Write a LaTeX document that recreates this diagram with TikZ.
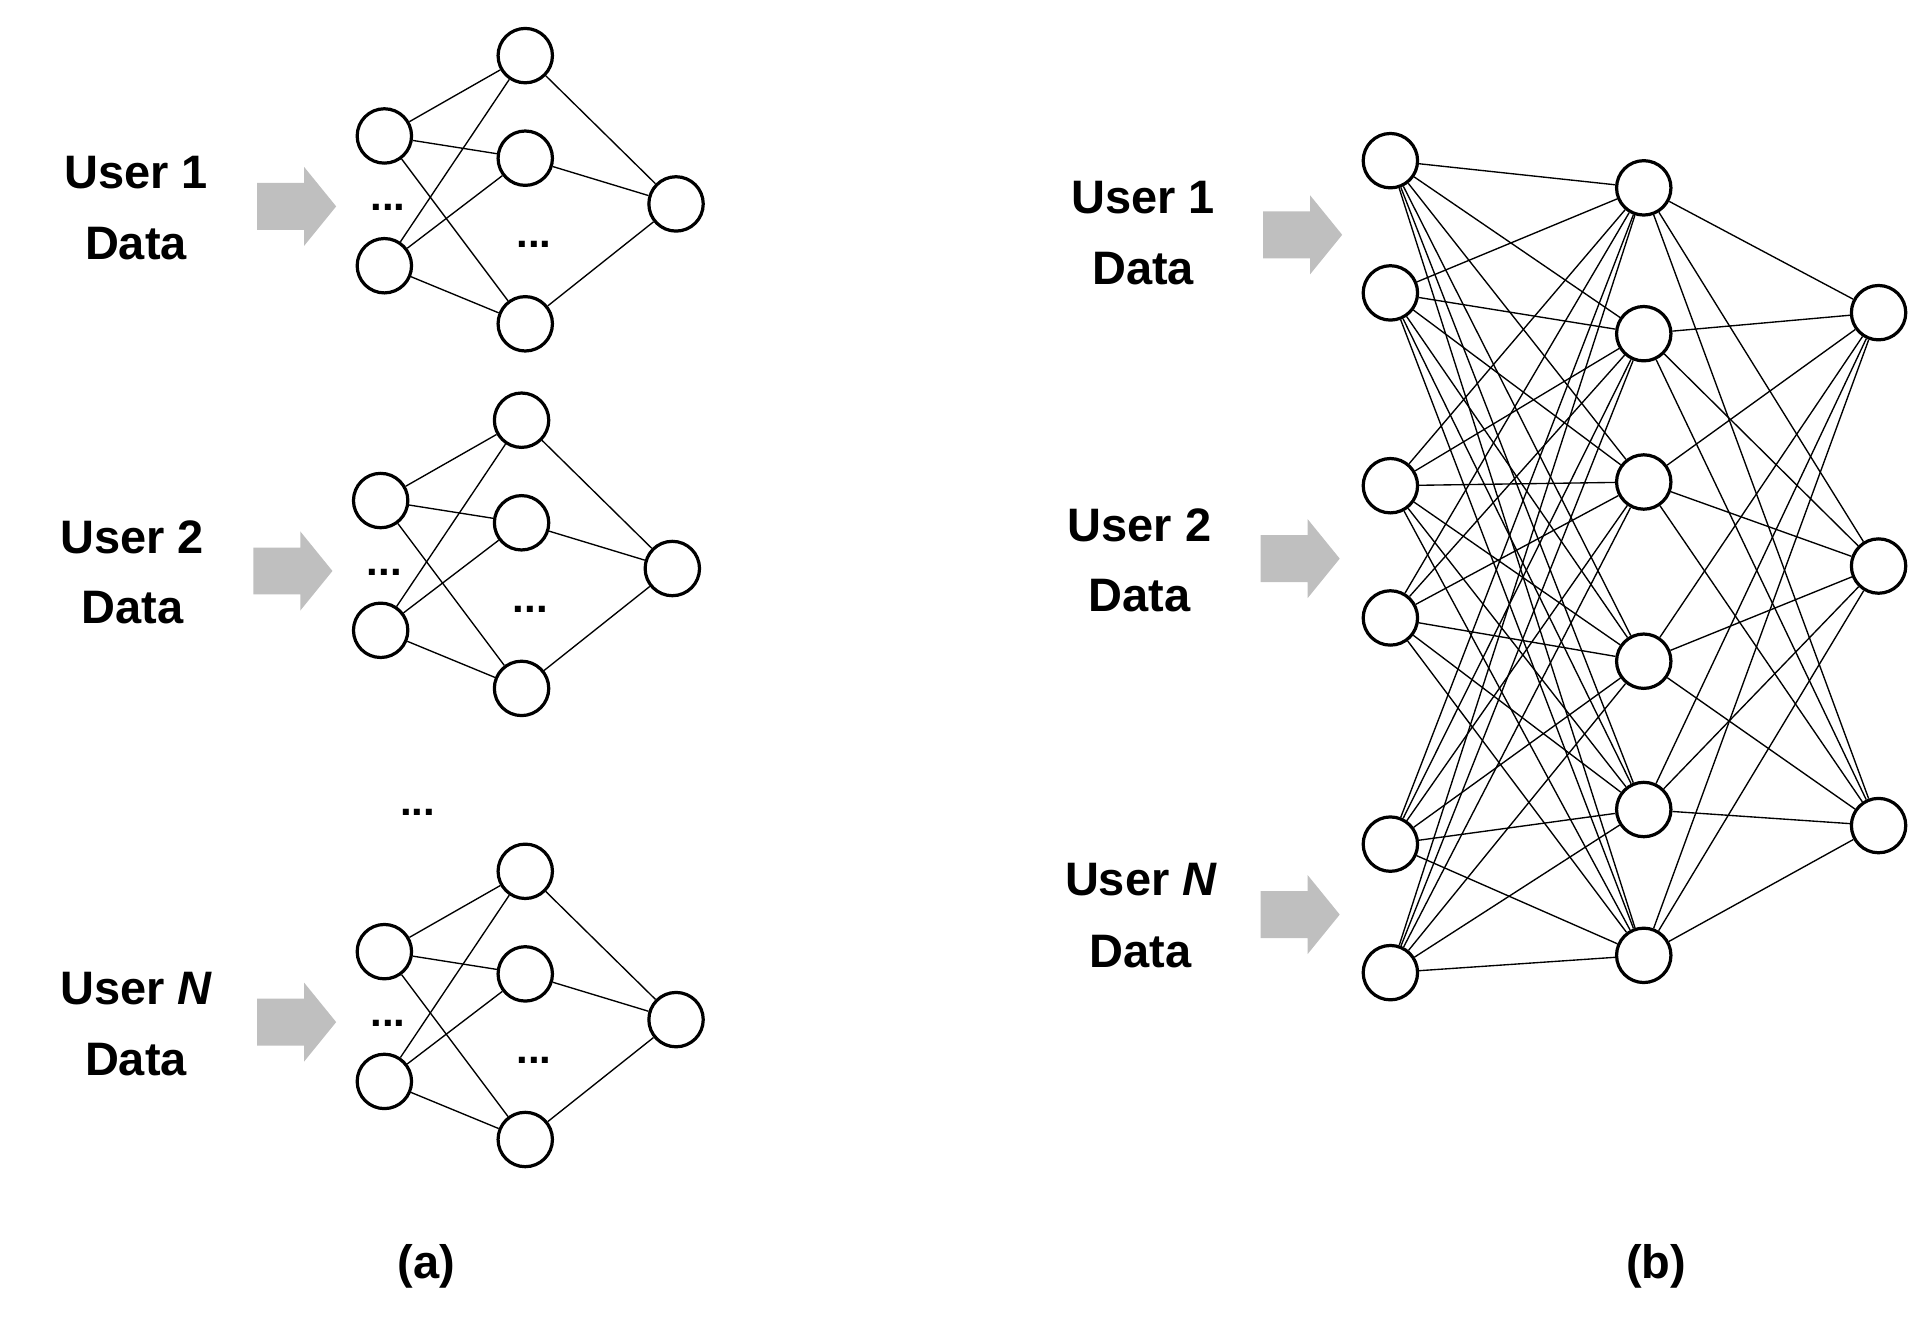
\documentclass[tikz,border=0pt]{standalone}
\usepackage{fontspec}
\setmainfont{Liberation Sans}
\begin{document}
\begin{tikzpicture}[x=1pt,y=-1pt,
  neuron/.style={circle,draw,line width=2.6pt,minimum size=44pt,inner sep=0pt,fill=white},
  lbl/.style={font=\fontsize{38}{44}\selectfont\bfseries,inner sep=0pt},
  dots/.style={font=\fontsize{34}{40}\selectfont\bfseries,inner sep=0pt},
  conn/.style={line width=1.1pt},
  blk/.style={fill=black!25,draw=none}]
\useasboundingbox (0,0) rectangle (1560,1075);
\newcommand{\bigarrow}[3]{\fill[blk] (#1,#2-19) -- (#1+38,#2-19) -- (#1+38,#2-32) -- (#1+64,#2) -- (#1+38,#2+32) -- (#1+38,#2+19) -- (#1,#2+19) -- cycle;}
% (a) networks
\foreach \k/\xo/\yo/\lb in {1/0/0/1, 2/-3/295/2, 3/0/660/{\itshape N}}{
  \begin{scope}[shift={(\xo,\yo)}]
  \node[neuron] (i\k a) at (311,110) {};
  \node[neuron] (i\k b) at (311,215) {};
  \node[neuron] (h\k a) at (425,45) {};
  \node[neuron] (h\k b) at (425,128) {};
  \node[neuron] (h\k c) at (425,262) {};
  \node[neuron] (o\k) at (547,165) {};
  \node[dots] (d\k a) at (314,168) {...};
  \node[dots] (d\k b) at (432,198) {...};
  \node[lbl] (u\k) at (110,140) {User \lb};
  \node[lbl] (t\k) at (110,197) {Data};
  \bigarrow{208}{167}{}
  \end{scope}
  \foreach \s in {a,b}{\foreach \t in {a,b,c}{\draw[conn] (i\k\s) -- (h\k\t);}}
  \foreach \t in {a,b,c}{\draw[conn] (h\k\t) -- (o\k);}
}
\node[dots] (vd) at (338,657) {...};
\node[lbl] (capa) at (345,1025) {(a)};
% (b) network
\foreach \n/\y in {1/130,2/237,3/393,4/500,5/683,6/787}{\node[neuron] (A\n) at (1125,\y) {};}
\foreach \n/\y in {1/152,2/270,3/390,4/535,5/655,6/773}{\node[neuron] (B\n) at (1330,\y) {};}
\foreach \n/\y in {1/253,2/458,3/668}{\node[neuron] (C\n) at (1520,\y) {};}
\begin{scope}[on background layer/.style={}]
\foreach \i in {1,...,6}{\foreach \j in {1,...,6}{\draw[conn] (A\i) -- (B\j);}}
\foreach \i in {1,...,6}{\foreach \j in {1,...,3}{\draw[conn] (B\i) -- (C\j);}}
\end{scope}
\node[lbl] (bu1) at (925,160) {User 1};
\node[lbl] (bt1) at (925,217) {Data};
\bigarrow{1022}{190}{}
\node[lbl] (bu2) at (922,425) {User 2};
\node[lbl] (bt2) at (922,482) {Data};
\bigarrow{1020}{452}{}
\node[lbl] (bu3) at (923,712) {User {\itshape N}};
\node[lbl] (bt3) at (923,770) {Data};
\bigarrow{1020}{740}{}
\node[lbl] (capb) at (1340,1025) {(b)};
\end{tikzpicture}
\end{document}
